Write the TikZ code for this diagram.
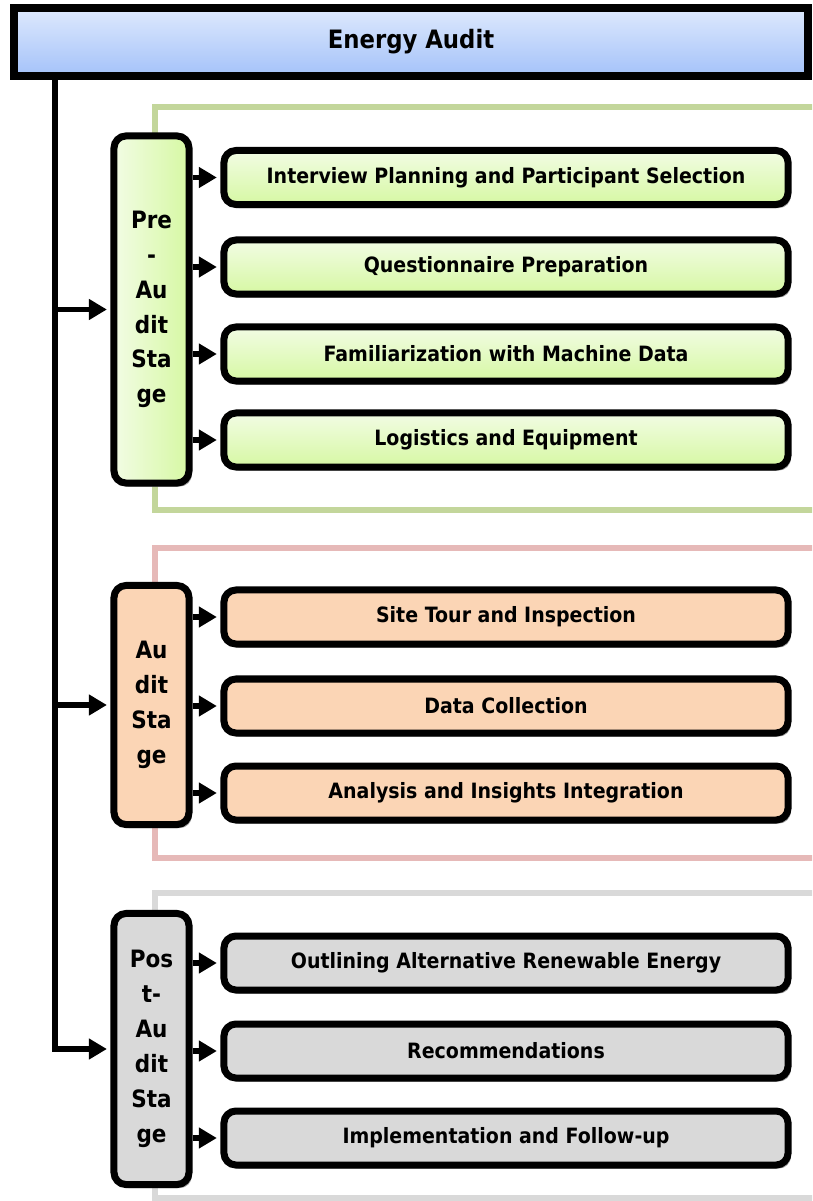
\documentclass[tikz,border=0pt]{standalone}
\usepackage{fontspec}
\setmainfont{DejaVu Sans}[FakeStretch=0.9]
\usetikzlibrary{arrows.meta,shadows,positioning}
\definecolor{titletop}{RGB}{222,233,253}
\definecolor{titlebot}{RGB}{164,194,249}
\definecolor{pretop}{RGB}{242,252,228}
\definecolor{prebot}{RGB}{214,248,163}
\definecolor{auditfill}{RGB}{251,213,181}
\definecolor{postfill}{RGB}{217,217,217}
\definecolor{preframe}{RGB}{195,214,155}
\definecolor{auditframe}{RGB}{230,185,184}
\definecolor{postframe}{RGB}{217,217,217}

\begin{document}
\begin{tikzpicture}[x=0.025cm, y=-0.025cm,
    box/.style={draw=black, line width=0.175cm, rounded corners=0.3cm,
      drop shadow={shadow xshift=2pt, shadow yshift=-2.5pt, fill=gray!75, opacity=1}},
    item/.style={box, minimum width=14.1cm, minimum height=1.35cm,
      font=\bfseries\fontsize{15}{18}\selectfont},
    stage/.style={box, minimum width=1.875cm, align=center,
      font=\bfseries\fontsize{17}{24.8}\selectfont},
    frame/.style={line width=0.15cm},
    link/.style={line width=0.13cm, shorten >=0.09cm,
      -{Triangle[length=0.45cm, width=0.5cm]}}]
    \clip (0,0) rectangle (812,1201);

    % group frames
    \draw[frame, draw=preframe] (155,107) rectangle (840,510);
    \draw[frame, draw=auditframe] (155,548) rectangle (840,858);
    \draw[frame, draw=postframe] (155,893) rectangle (840,1198);

    \node[box, rounded corners=0pt, line width=0.2cm, minimum width=19.85cm,
      minimum height=1.7cm, top color=titletop, bottom color=titlebot,
      font=\bfseries\fontsize{18}{22}\selectfont] (title) at (411,42) {Energy Audit};

    \node[stage, minimum height=8.675cm, left color=pretop, right color=prebot]
      (pre) at (151.5,309.5) {Pre\\-\\Au\\dit\\Sta\\ge};
    \node[stage, minimum height=5.975cm, fill=auditfill]
      (audit) at (151.5,705) {Au\\dit\\Sta\\ge};
    \node[stage, minimum height=6.775cm, fill=postfill]
      (post) at (151.5,1049) {Pos\\t-\\Au\\dit\\Sta\\ge};

    % trunk
    \coordinate (trunk) at (55,76);
    \draw[link] (trunk) |- (post.west);
    \draw[link] (trunk |- pre.west) -- (pre.west);
    \draw[link] (trunk |- audit.west) -- (audit.west);

    \foreach \y/\name/\txt in {177.5/plan/Interview Planning and Participant Selection,
        267/quest/Questionnaire Preparation,
        354/famil/Familiarization with Machine Data,
        440/logis/Logistics and Equipment} {
      \node[item, top color=pretop, bottom color=prebot] (\name) at (506,\y) {\txt};
      \draw[link] (pre.east |- \name.west) -- (\name.west);
    }
    \foreach \y/\name/\txt in {617/tour/Site Tour and Inspection,
        706/data/Data Collection,
        793/anal/Analysis and Insights Integration} {
      \node[item, fill=auditfill] (\name) at (506,\y) {\txt};
      \draw[link] (audit.east |- \name.west) -- (\name.west);
    }
    \foreach \y/\name/\txt in {963/renew/Outlining Alternative Renewable Energy,
        1051/recom/Recommendations,
        1138/impl/Implementation and Follow-up} {
      \node[item, fill=postfill] (\name) at (506,\y) {\txt};
      \draw[link] (post.east |- \name.west) -- (\name.west);
    }
  \end{tikzpicture}
\end{document}
